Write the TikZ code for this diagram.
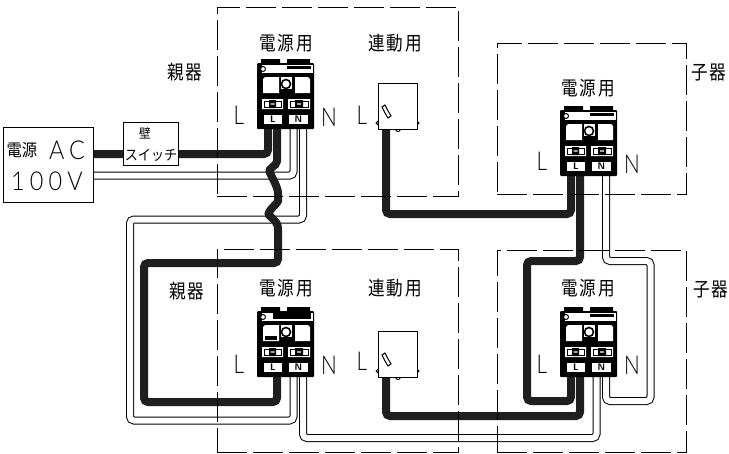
\documentclass[tikz,border=0pt]{standalone}
\usepackage{fontspec}
\usetikzlibrary{backgrounds}
\newfontfamily\jpfont[LetterSpace=10,FakeStretch=0.85]{Noto Sans CJK JP}
\newfontfamily\jptight[FakeStretch=0.9]{Noto Sans CJK JP}
\newfontfamily\narrowfont[FakeStretch=0.8]{Lato Light}
\newfontfamily\spacedfont[LetterSpace=20,FakeStretch=0.9]{Lato Light}
\tikzset{
  groupbox/.style={draw,line width=0.9pt,dash pattern=on 30pt off 6pt,inner sep=0pt},
  plainbox/.style={draw,line width=1pt,fill=white,inner sep=0pt},
  thickwire/.style={line width=8pt,color=black!88,rounded corners=4pt},
  twinwire/.style={line width=1pt,double=white,double distance=6pt,rounded corners=4pt},
  jplabel/.style={font=\jpfont\fontsize{19.5}{20}\selectfont,inner sep=0pt},
  letter/.style={font=\narrowfont\fontsize{26}{26}\selectfont,inner sep=0pt},
  devterm/.pic={
    \node[fill=black,minimum width=57pt,minimum height=66pt,inner sep=0pt,rounded corners=1pt] (-body) at (28.5,33) {};
    \fill (4,-4) rectangle (23,1) (30,-4) rectangle (53,1);
    \fill[white] (5,2) rectangle (56,10);
    \fill (30,3) rectangle (54,6);
    \fill[white] (6,16) -- (8,14) -- (22,14) -- (22,30) -- (6,30) -- cycle;
    \fill[white] (38,14) -- (51,14) -- (53,16) -- (53,30) -- (38,30) -- cycle;
    \fill[white] (24,14) rectangle (35,26);
    \draw[line width=1pt,fill=white] (6,6) circle (2.5);
    \draw[line width=1.6pt,fill=white] (29,21) circle (4.5);
    \fill[white] (5,36) rectangle (26,46) (31,36) rectangle (53,46);
    \draw[line width=.8pt] (7,38) rectangle (24,44) (33,38) rectangle (51,44);
    \fill (12,37) rectangle (19,45) (38,37) rectangle (46,45);
    \fill[white] (13.5,40.4) rectangle (17.5,41.6) (40,40.4) rectangle (44,41.6);
    \node[fill=white,minimum width=18pt,minimum height=9pt,inner sep=0pt,font=\sffamily\bfseries\fontsize{9.5}{9.5}\selectfont] (-ltag) at (16,56.5) {L};
    \node[fill=white,minimum width=19pt,minimum height=9pt,inner sep=0pt,font=\sffamily\bfseries\fontsize{9.5}{9.5}\selectfont] (-ntag) at (41.5,56.5) {N};
    \coordinate (-la) at (11,66);
    \coordinate (-lb) at (20,66);
    \coordinate (-na) at (36.5,66);
    \coordinate (-nb) at (46,66);
  },
  linkbox/.pic={
    \draw[line width=1pt,fill=white] (0,40) circle (1.8) (39,40) circle (1.8) (20,46) circle (2.5);
    \node[plainbox,minimum width=39pt,minimum height=46pt] (-body) at (19.5,23) {};
    \draw[line width=1pt,fill=white] (4,24) -- (7,22) -- (9,26) -- (13,33) -- (10,35) -- (7,30) -- cycle;
    \coordinate (-out) at (8,46);
  }
}
\begin{document}
\begin{tikzpicture}[x=1pt,y=-1pt]
\useasboundingbox (0,0) rectangle (729,453);
\coordinate (acl) at (93,154);
\coordinate (acn) at (93,175.5);
\coordinate (twinlefttop) at (130,219.5);
\coordinate (twinleftbot) at (130,420.5);
\coordinate (twinlow) at (450,438);
\coordinate (twinrighttop) at (650.5,261);
\coordinate (twinrightbot) at (650.5,401);
\coordinate (linktop) at (480,214);
\coordinate (linklow) at (480,416);
\coordinate (thickleft) at (144,263);
\coordinate (thickleftbot) at (144,402);
\coordinate (thickmid) at (527,261);
\coordinate (thickmidbot) at (527,401);
\path (257,63) pic (d1) {devterm};
\path (560,110) pic (d2) {devterm};
\path (257,311) pic (d3) {devterm};
\path (560,311) pic (d4) {devterm};
\path (378,83) pic (s1) {linkbox};
\path (378,331) pic (s2) {linkbox};
%le module du bas a gauche est plus charge
\fill ([shift={(16,2)}]d3-body.north west) rectangle ++(38,6);
\fill ([shift={(8,25)}]d3-body.north west) rectangle ++(12,4);
\begin{scope}[on background layer]
%cables doubles
\draw[twinwire] (acn) -| (d1-na);
\draw[twinwire] (d1-nb) |- (twinlefttop) -- (twinleftbot) -| (d3-na);
\draw[twinwire] (d3-nb) |- (twinlow) -| (d4-na);
\draw[twinwire] (d2-nb) |- (twinrighttop) -- (twinrightbot) -| (d4-nb);
%cables noirs
\draw[thickwire] (acl) -| (d1-la);
\draw[thickwire] (d1-lb) -- ++(0,28) .. controls ++(0,10) and ++(-5,-10) .. ++(-5,20) .. controls ++(5,10) and ++(0,-6) .. ++(6,20) .. controls ++(0,6) and ++(-6,-6) .. ++(-6,21) .. controls ++(6,6) and ++(0,-6) .. ++(6,16) |- (thickleft) -- (thickleftbot) -| (d3-lb);
\draw[thickwire] (s1-out) |- (linktop) -| (d2-la);
\draw[thickwire] (d2-lb) |- (thickmid) -- (thickmidbot) -| (d4-la);
\draw[thickwire] (s2-out) |- (linklow) -| (d4-lb);
%cadres
\node[groupbox,minimum width=241pt,minimum height=189pt] (parenttop) at (337.5,101.5) {};
\node[groupbox,minimum width=189pt,minimum height=151pt] (childtop) at (591.5,118.5) {};
\node[groupbox,minimum width=241pt,minimum height=203pt] (parentlow) at (337.5,350.5) {};
\node[groupbox,minimum width=189pt,minimum height=202pt] (childlow) at (591.5,351) {};
\end{scope}
\node[plainbox,minimum width=90pt,minimum height=75pt] (acbox) at (48,164.5) {};
\node[plainbox,minimum width=55pt,minimum height=43pt] (wallbox) at (150.5,143.5) {};
\node[inner sep=0pt,font=\jptight\fontsize{17}{17}\selectfont] (actop) at (22,150) {電源};
\node[inner sep=0pt,font=\spacedfont\fontsize{26}{26}\selectfont] (acletters) at (67,150) {AC};
\node[inner sep=0pt,font=\spacedfont\fontsize{26}{26}\selectfont] (acvolt) at (47,181) {100V};
\node[inner sep=0pt,font=\jptight\fontsize{13}{13}\selectfont] (walltop) at (145,133) {壁};
\node[inner sep=0pt,font=\jptight\fontsize{14.5}{14.5}\selectfont] (wallbot) at (151,155) {スイッチ};
\node[jplabel] (powa) at (286,43) {電源用};
\node[jplabel] (linka) at (395,43) {連動用};
\node[jplabel] (parenta) at (185,72) {親器};
\node[jplabel] (childa) at (709,73) {子器};
\node[jplabel] (powb) at (588,88) {電源用};
\node[jplabel] (parentb) at (187,291) {親器};
\node[jplabel] (powc) at (286,288) {電源用};
\node[jplabel] (linkb) at (395,288) {連動用};
\node[jplabel] (powd) at (588,288) {電源用};
\node[jplabel] (childb) at (711,290) {子器};
\node[letter] (la) at (239,115) {L};
\node[letter] (na) at (329,117) {N};
\node[letter] (lsa) at (362,115) {L};
\node[letter] (lb) at (542,161) {L};
\node[letter] (nb) at (632,164) {N};
\node[letter] (lc) at (239,364) {L};
\node[letter] (nc) at (329,365) {N};
\node[letter] (lsb) at (362,361) {L};
\node[letter] (ld) at (542,364) {L};
\node[letter] (nd) at (632,365) {N};
\end{tikzpicture}
\end{document}
